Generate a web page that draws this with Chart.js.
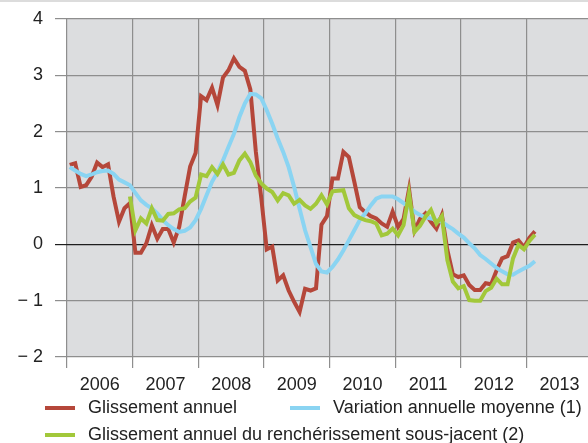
<!DOCTYPE html>
<html lang="fr">
<head>
<meta charset="utf-8">
<title>Renchérissement</title>
<script src="https://cdn.jsdelivr.net/npm/chart.js@4"></script>
<style>
  html, body { margin: 0; padding: 0; background: #fff; }
  #wrap {
    position: relative;
    width: 588px;
    height: 443px;
    overflow: hidden;
    font-family: 'Liberation Sans', Arial, sans-serif;
  }
  #wrap::before {
    content: '';
    position: absolute;
    left: 0; top: 0;
    width: 588px; height: 2px;
    background: #dcdcdc;
  }
  canvas { display: block; }
  .leg {
    position: absolute;
    font-size: 18px;
    line-height: 20px;
    color: #222;
    white-space: nowrap;
  }
  .leg i {
    display: inline-block;
    width: 30px;
    height: 4px;
    margin-right: 13px;
    vertical-align: middle;
  }
</style>
</head>
<body>
<div id="wrap">
  <canvas id="chart" width="588" height="443"></canvas>
  <div class="leg" style="left:45px; top:397px"><i style="background:#b5473a"></i>Glissement annuel</div>
  <div class="leg" style="left:290px; top:397px"><i style="background:#8ad4f2"></i>Variation annuelle moyenne (1)</div>
  <div class="leg" style="left:45px; top:424px"><i style="background:#a2c83a"></i>Glissement annuel du renchérissement sous-jacent (2)</div>
</div>
<script>
// ---- Data (monthly, Jan 2006 .. Feb 2013) ----
const years = ['2006', '2007', '2008', '2009', '2010', '2011', '2012', '2013'];

const glissement = [
  1.41, 1.44, 1.02, 1.05, 1.20, 1.45, 1.37, 1.42, 0.85, 0.40, 0.64, 0.73,
  -0.15, -0.15, 0.02, 0.34, 0.10, 0.27, 0.27, 0.03, 0.31, 0.85, 1.38, 1.62,
  2.63, 2.56, 2.78, 2.47, 2.96, 3.09, 3.30, 3.15, 3.08, 2.75, 1.65, 0.82,
  -0.09, -0.04, -0.64, -0.55, -0.82, -1.02, -1.20, -0.79, -0.82, -0.78, 0.35, 0.50,
  1.17, 1.17, 1.64, 1.55, 1.11, 0.66, 0.57, 0.50, 0.46, 0.37, 0.31, 0.58,
  0.31, 0.45, 0.98, 0.24, 0.45, 0.55, 0.40, 0.28, 0.52, -0.10, -0.53, -0.58,
  -0.55, -0.72, -0.81, -0.81, -0.69, -0.71, -0.46, -0.25, -0.21, 0.03, 0.07, -0.05,
  0.12, 0.23
];

const moyenne = [
  1.37, 1.31, 1.25, 1.21, 1.24, 1.28, 1.30, 1.31, 1.25, 1.15, 1.10, 1.05,
  0.91, 0.78, 0.70, 0.64, 0.55, 0.43, 0.34, 0.27, 0.22, 0.24, 0.30, 0.43,
  0.63, 0.87, 1.11, 1.28, 1.49, 1.73, 1.96, 2.26, 2.50, 2.67, 2.66, 2.59,
  2.38, 2.14, 1.88, 1.64, 1.37, 1.02, 0.63, 0.25, -0.05, -0.35, -0.48, -0.50,
  -0.40, -0.27, -0.11, 0.07, 0.25, 0.43, 0.55, 0.69, 0.81, 0.85, 0.85, 0.85,
  0.80, 0.73, 0.66, 0.58, 0.52, 0.48, 0.46, 0.43, 0.40, 0.33, 0.27, 0.19,
  0.12, 0.02, -0.07, -0.19, -0.26, -0.34, -0.42, -0.48, -0.53, -0.54, -0.48, -0.43,
  -0.38, -0.30
];

const sousJacent = [
  null, null, null, null, null, null, null, null, null, null, null, 0.85,
  0.25, 0.46, 0.37, 0.64, 0.43, 0.42, 0.54, 0.55, 0.62, 0.64, 0.76, 0.83,
  1.24, 1.21, 1.37, 1.25, 1.42, 1.24, 1.27, 1.49, 1.61, 1.46, 1.22, 1.08,
  0.99, 0.93, 0.78, 0.91, 0.87, 0.72, 0.79, 0.69, 0.63, 0.72, 0.87, 0.71,
  0.94, 0.95, 0.96, 0.64, 0.52, 0.47, 0.43, 0.41, 0.37, 0.16, 0.19, 0.28,
  0.16, 0.34, 0.90, 0.22, 0.33, 0.49, 0.61, 0.37, 0.50, -0.28, -0.66, -0.78,
  -0.74, -0.99, -1.00, -1.00, -0.83, -0.77, -0.61, -0.71, -0.71, -0.25, -0.01, -0.09,
  0.06, 0.17
];

const yMin = -2, yMax = 4;

// ---- Styling ----
const RED   = '#b5473a';
const BLUE  = '#8ad4f2';
const GREEN = '#a2c83a';
const GRID  = '#8e8e8e';
const FONT  = { family: "'Liberation Sans', Arial, sans-serif", size: 18 };

// month index -> x in the middle of the month
const toPts = arr => arr.map((v, i) => ({ x: i + 0.5, y: v }));

// grey plot background
const plotBackground = {
  id: 'plotBackground',
  beforeDraw(chart) {
    const { ctx, chartArea: a } = chart;
    ctx.save();
    ctx.fillStyle = '#dcdddf';
    ctx.fillRect(a.left, a.top, a.right - a.left, a.bottom - a.top);
    ctx.restore();
  }
};

const line = (data, color, order) => ({
  data: toPts(data),
  borderColor: color,
  backgroundColor: color,
  borderWidth: 4,
  pointRadius: 0,
  tension: 0,
  fill: false,
  order: order
});

new Chart(document.getElementById('chart'), {
  type: 'line',
  data: {
    datasets: [
      line(sousJacent, GREEN, 1),
      line(moyenne, BLUE, 2),
      line(glissement, RED, 3)
    ]
  },
  options: {
    responsive: false,
    animation: false,
    layout: { padding: { top: 19, left: 0, right: 0, bottom: 0 } },
    plugins: { legend: { display: false }, tooltip: { enabled: false } },
    scales: {
      x: {
        type: 'linear',
        min: 0,
        max: 95.2,
        afterBuildTicks(scale) {
          scale.ticks = [];
          years.forEach((y, k) => {
            scale.ticks.push({ value: k * 12 });
            scale.ticks.push({ value: k * 12 + 6 });
          });
        },
        afterFit(scale) {
          scale.height = 86;
          scale.paddingLeft = 0;
          scale.paddingRight = 0;
        },
        ticks: {
          autoSkip: false,
          maxRotation: 0,
          padding: 6,
          color: '#222',
          font: FONT,
          callback: v => (v % 12 === 6 ? years[(v - 6) / 12] : '')
        },
        grid: {
          color: ctx => (ctx.tick && ctx.tick.value % 12 === 0 ? GRID : 'transparent'),
          lineWidth: 1.2,
          tickLength: 11
        },
        border: { display: false }
      },
      y: {
        min: yMin,
        max: yMax,
        afterFit(scale) {
          scale.width = 67;
          scale.paddingTop = 0;
          scale.paddingBottom = 0;
        },
        ticks: {
          stepSize: 1,
          padding: 12,
          color: '#222',
          font: FONT,
          callback: v => (v < 0 ? '\u2212 ' + Math.abs(v) : String(v))
        },
        grid: {
          color: ctx => (ctx.tick && ctx.tick.value === 0 ? '#1e1e1e' : GRID),
          lineWidth: 1.2,
          tickLength: 12
        },
        border: { display: false }
      }
    }
  },
  plugins: [plotBackground]
});
</script>
</body>
</html>
